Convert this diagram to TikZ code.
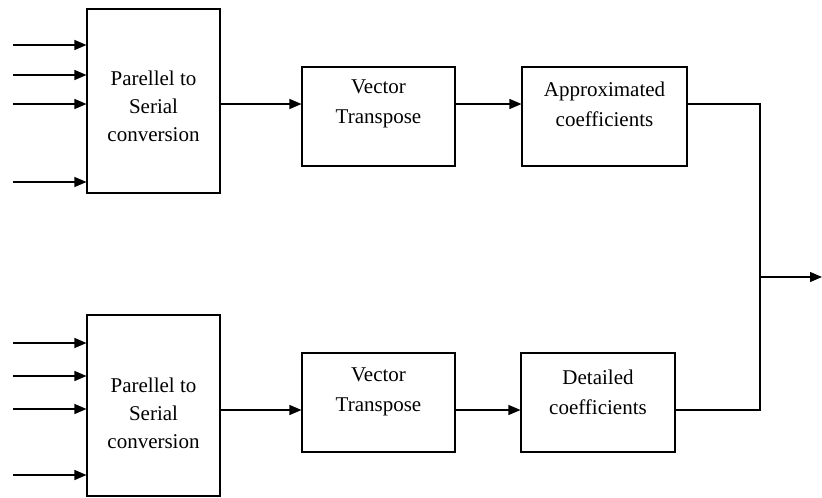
\documentclass[tikz,border=0pt]{standalone}
\usepackage{fontspec}
\setmainfont{Liberation Serif}
\usetikzlibrary{arrows.meta}
\begin{document}
\begin{tikzpicture}[x=1pt,y=-1pt,
  box/.style={draw, line width=1.1pt, inner sep=0pt},
  lbl/.style={align=center, inner sep=0pt, font=\fontsize{21}{30}\selectfont},
  lbl3/.style={align=center, inner sep=0pt, font=\fontsize{21}{28}\selectfont},
  link/.style={line width=1.2pt},
  arr/.style={link, -{Triangle[length=12pt,width=10pt]}}]
\useasboundingbox (0,0) rectangle (822,498);

% upper branch blocks
\node[box, minimum width=133pt, minimum height=184pt] (p1) at (153.5,101) {};
\node[lbl3] (p1t) at (153.5,106) {Parellel to\\Serial\\conversion};
\node[box, minimum width=153pt, minimum height=99pt] (v1) at (378.5,116.5) {};
\node[lbl] (v1t) at (378.5,104) {Vector\\Transpose};
\node[box, minimum width=165pt, minimum height=99pt] (a1) at (604.5,116.5) {};
\node[lbl] (a1t) at (604.5,104) {Approximated\\coefficients};

% lower branch blocks
\node[box, minimum width=133pt, minimum height=181pt] (p2) at (153.5,405.5) {};
\node[lbl3] (p2t) at (153.5,413) {Parellel to\\Serial\\conversion};
\node[box, minimum width=153pt, minimum height=99pt] (v2) at (378.5,402.5) {};
\node[lbl] (v2t) at (378.5,392) {Vector\\Transpose};
\node[box, minimum width=154pt, minimum height=99pt] (d2) at (598,402.5) {};
\node[lbl] (d2t) at (598,392) {Detailed\\coefficients};

% parallel inputs
\foreach \y [count=\i] in {45,75,104,182} {
  \coordinate (ia\i) at (13,\y);
  \draw[arr] (ia\i) -- (ia\i -| p1.west);
}
\foreach \y [count=\i] in {343,376,409,475} {
  \coordinate (ib\i) at (13,\y);
  \draw[arr] (ib\i) -- (ib\i -| p2.west);
}

% chains
\coordinate (r1) at (0,104);
\coordinate (r2) at (0,410);
\draw[arr] (p1.east |- r1) -- (v1.west |- r1);
\draw[arr] (v1.east |- r1) -- (a1.west |- r1);
\draw[arr] (p2.east |- r2) -- (v2.west |- r2);
\draw[arr] (v2.east |- r2) -- (d2.west |- r2);

% merge of both coefficient sets
\coordinate (jt) at (760,104);
\coordinate (jb) at (760,410);
\coordinate (jm) at (760,277);
\coordinate (out) at (822,277);
\draw[link] (a1.east |- jt) -- (jt) -- (jb) -- (d2.east |- jb);
\draw[arr] (jm) -- (out);
\end{tikzpicture}
\end{document}
